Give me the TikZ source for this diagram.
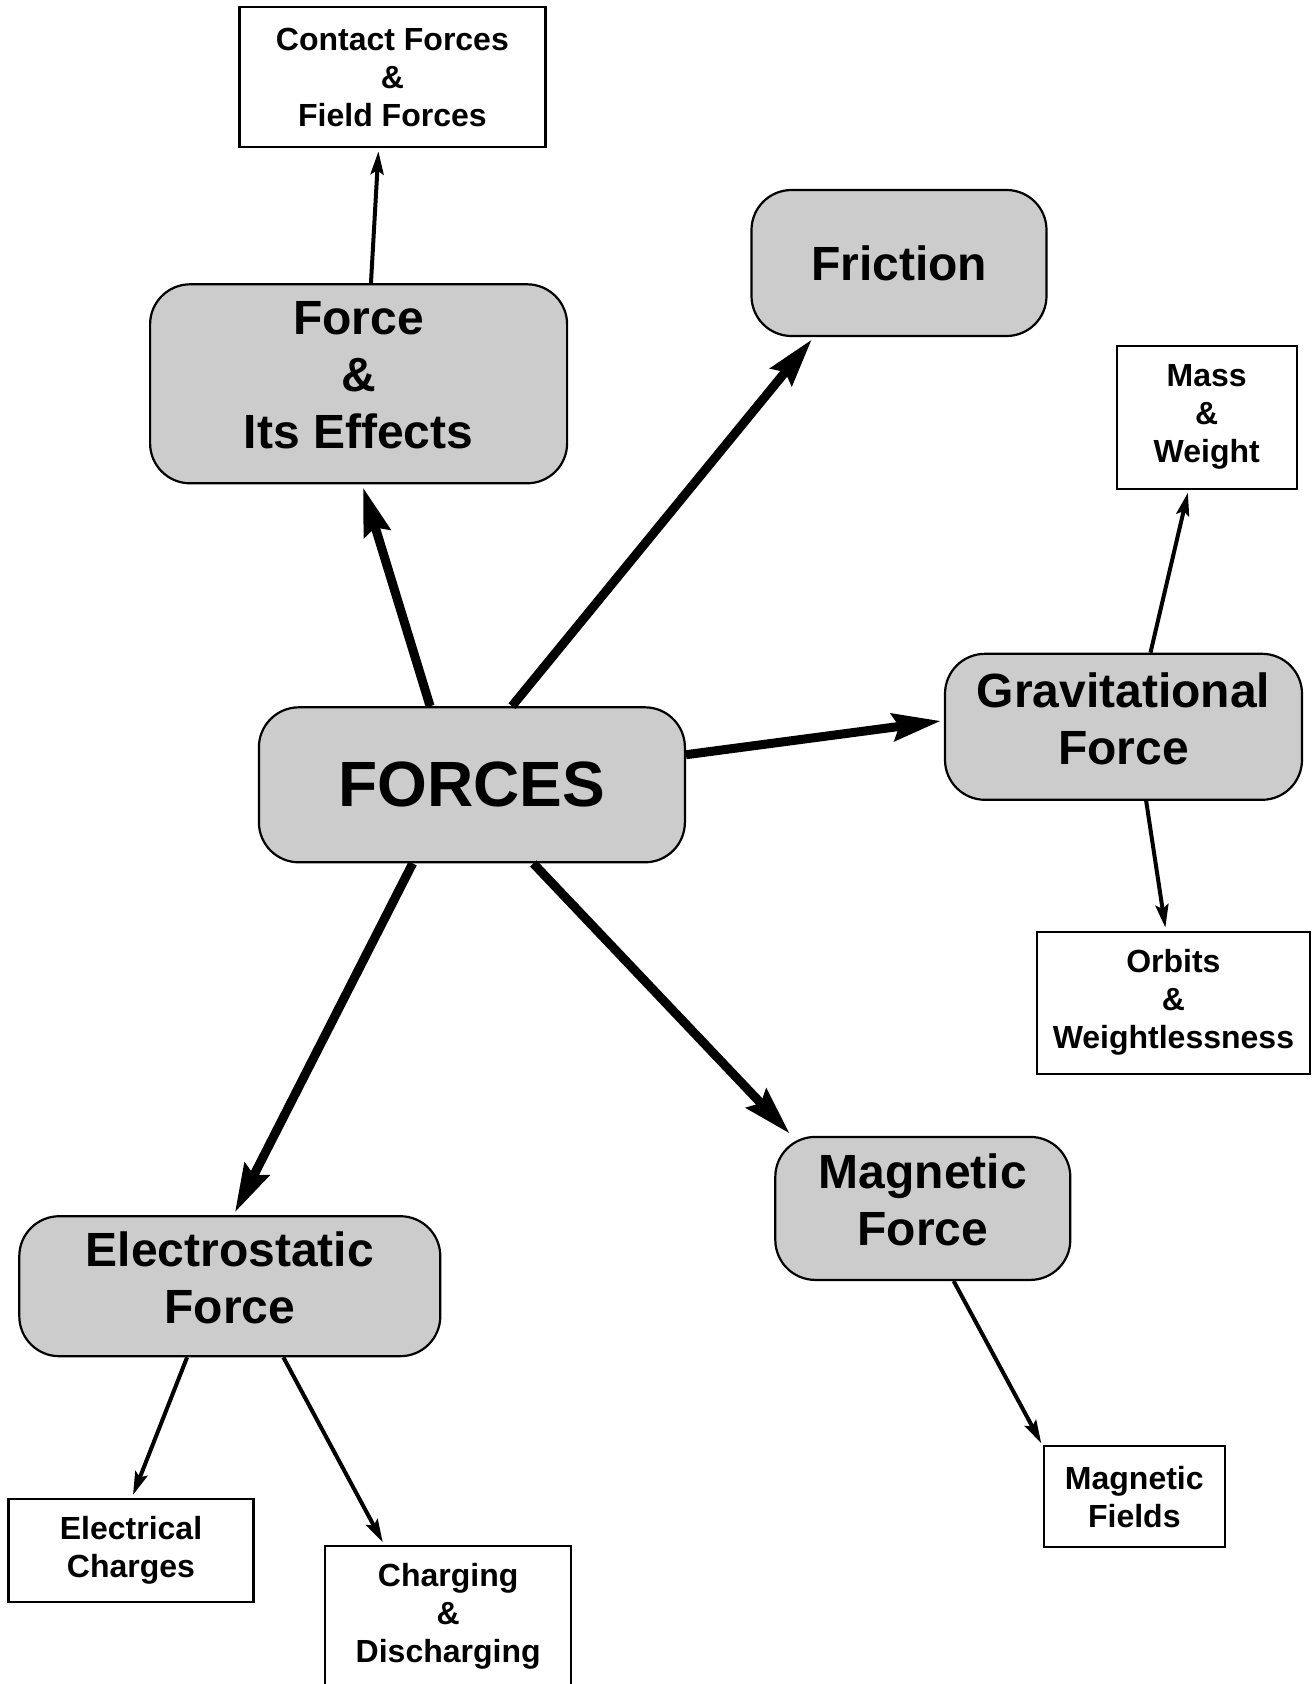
\documentclass[tikz,border=0pt]{standalone}
\usepackage{fontspec}
\setmainfont{Liberation Sans}
\usetikzlibrary{arrows.meta}

\begin{document}
\begin{tikzpicture}[x=1pt,y=-1pt,
  topic/.style={draw, line width=2.2pt, fill=black!20, rounded corners=40pt, align=center, inner sep=0pt, font=\bfseries\fontsize{48}{57}\selectfont},
  subtopic/.style={draw, line width=2.2pt, fill=white, align=center, inner sep=0pt, font=\bfseries\fontsize{32}{38}\selectfont},
  bigarrow/.style={line width=9pt, -{Stealth[length=48pt,width=27pt,inset=6pt]}, shorten >=3pt},
  smallarrow/.style={line width=4pt, -{Stealth[length=23pt,width=13pt,inset=4pt]}, shorten >=3pt}]
        \useasboundingbox (0,0) rectangle (1312,1684);
        \clip (0,0) rectangle (1312,1684);
        \node[topic, minimum width=426pt, minimum height=155pt, font=\bfseries\fontsize{64}{76}\selectfont] (forces) at (471.9,784.8) {FORCES};
        \node[topic, minimum width=417pt, minimum height=199pt] (effects) at (358.6,383.8) {Force\\\&\\Its Effects\strut};
        \node[topic, minimum width=295pt, minimum height=146pt] (friction) at (899,263) {Friction};
        \node[topic, minimum width=357pt, minimum height=146pt] (gravity) at (1123.5,726.8) {Gravitational\\Force\strut};
        \node[topic, minimum width=295pt, minimum height=143pt] (magnetic) at (922.8,1208.4) {Magnetic\\Force\strut};
        \node[topic, minimum width=421pt, minimum height=140pt] (electro) at (229.8,1286.2) {Electrostatic\\Force\strut};
        \node[subtopic, minimum width=306pt, minimum height=140pt] (contact) at (392.4,77.3) {Contact Forces\\\&\\Field Forces};
        \node[subtopic, minimum width=180pt, minimum height=143pt] (mass) at (1206.7,417.1) {Mass\\\&\\Weight};
        \node[subtopic, minimum width=273pt, minimum height=142pt] (orbits) at (1173.4,1002.7) {Orbits\\\&\\Weightlessness};
        \node[subtopic, minimum width=181pt, minimum height=101pt] (fields) at (1134.3,1496.6) {Magnetic\\Fields};
        \node[subtopic, minimum width=245pt, minimum height=103pt] (charges) at (131,1550.3) {Electrical\\Charges};
        \node[subtopic, minimum width=246pt, minimum height=140pt] (charging) at (448.2,1616) {Charging\\\&\\Discharging};
        \draw[bigarrow] (forces.118.8) -- (effects.272.2);
        \draw[bigarrow] (forces.63.2) -- (friction.221.1);
        \draw[bigarrow] (forces.8) -- (gravity.178.6);
        \draw[bigarrow] (forces.308.6) -- (magnetic.151.2);
        \draw[bigarrow] (forces.233.4) -- (electro.87);
        \draw[smallarrow] (effects.83.8) -- (contact.259.3);
        \draw[smallarrow] (gravity.70.9) -- (mass.256.1);
        \draw[smallarrow] (gravity.287.6) -- (orbits.96.8);
        \draw[smallarrow] (magnetic.293.2) -- (fields.151.3);
        \draw[smallarrow] (electro.239.7) -- (charges.89);
        \draw[smallarrow] (electro.307) -- (charging.132.6);
    \end{tikzpicture}
\end{document}
